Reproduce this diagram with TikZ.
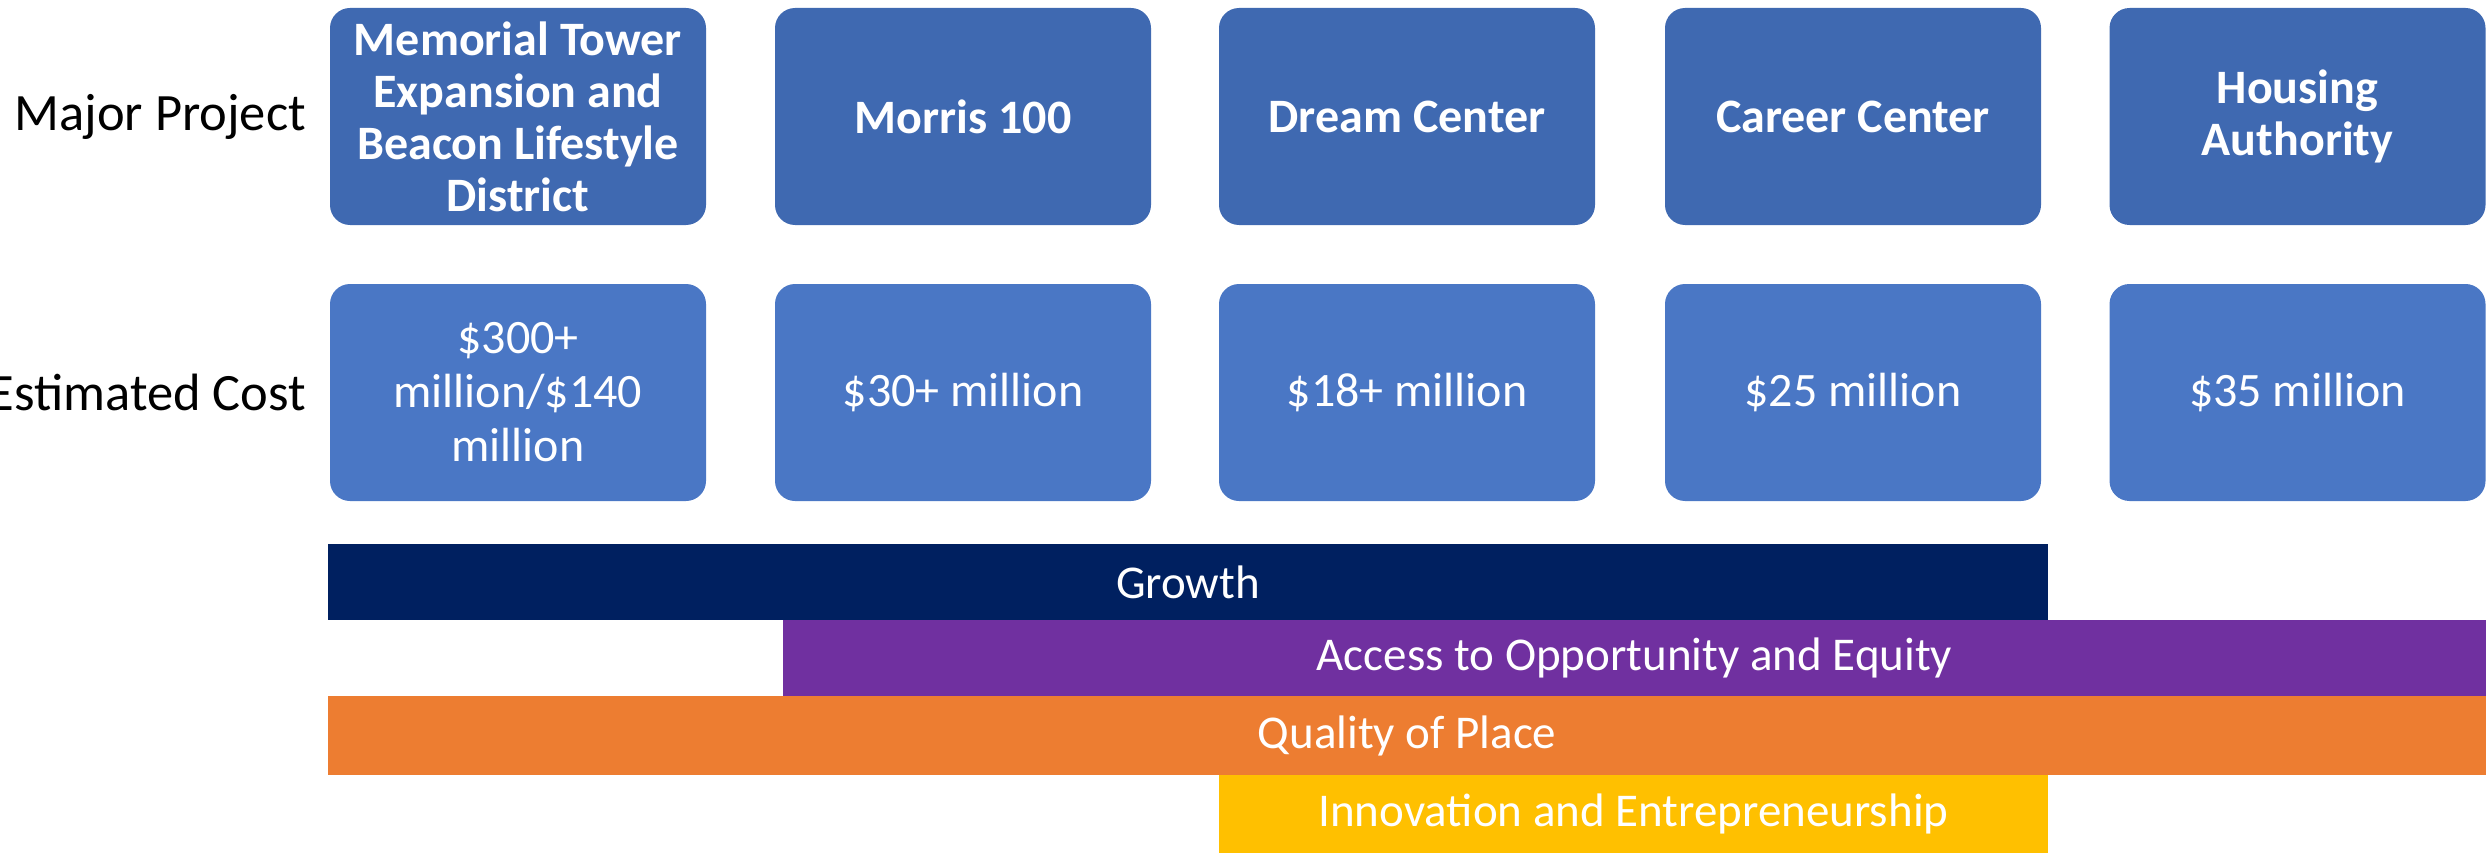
\documentclass[tikz,border=0pt]{standalone}
\usepackage{fontspec}
\setmainfont{Carlito}
\definecolor{projblue}{HTML}{3F69B1}
\definecolor{costblue}{HTML}{4A77C5}
\definecolor{growthblue}{HTML}{002060}
\definecolor{equitypurple}{HTML}{7030A0}
\definecolor{placeorange}{HTML}{ED7D31}
\definecolor{innovyellow}{HTML}{FFC000}
\begin{document}
\begin{tikzpicture}[x=1pt,y=-1pt,
  card/.style={rounded corners=20pt, minimum width=376pt, minimum height=217pt,
    inner sep=0pt, align=center, text=white},
  projcard/.style={card, fill=projblue, font=\fontsize{48}{52}\selectfont\bfseries},
  costcard/.style={card, fill=costblue, font=\fontsize{48}{54}\selectfont},
  rowlabel/.style={anchor=east, inner sep=0pt, font=\fontsize{52.5}{60}\selectfont},
  bar/.style={inner sep=0pt, text=white, font=\fontsize{47}{52}\selectfont}]
\useasboundingbox (0,0) rectangle (2486,853);

% row labels
\node[rowlabel] (lproj) at (306,116.5) {Major Project};
\node[rowlabel] (lcost) at (306,392.5) {Estimated Cost};

% project cards
\node[projcard] (p1) at (518,116.5) {Memorial Tower\\Expansion and\\Beacon Lifestyle\\District};
\node[projcard] (p2) at (963,116.5) {Morris 100};
\node[projcard] (p3) at (1407,116.5) {Dream Center};
\node[projcard] (p4) at (1853,116.5) {Career Center};
\node[projcard] (p5) at (2297.5,116.5) {Housing\\Authority};

% cost cards
\node[costcard] (c1) at (518,392.5) {\$300+\\million/\$140\\million};
\node[costcard] (c2) at (963,392.5) {\$30+ million};
\node[costcard] (c3) at (1407,392.5) {\$18+ million};
\node[costcard] (c4) at (1853,392.5) {\$25 million};
\node[costcard] (c5) at (2297.5,392.5) {\$35 million};

% goal bars
\node[bar, fill=growthblue, minimum width=1720pt, minimum height=76pt] (growth) at (1188,582) {Growth};
\node[bar, fill=equitypurple, minimum width=1703pt, minimum height=76pt] (equity) at (1634.5,658) {Access to Opportunity and Equity};
\node[bar, fill=placeorange, minimum width=2158pt, minimum height=79pt] (place) at (1407,735.5) {Quality of Place};
\node[bar, fill=innovyellow, minimum width=829pt, minimum height=78pt] (innov) at (1633.5,814) {Innovation and Entrepreneurship};
\end{tikzpicture}
\end{document}
